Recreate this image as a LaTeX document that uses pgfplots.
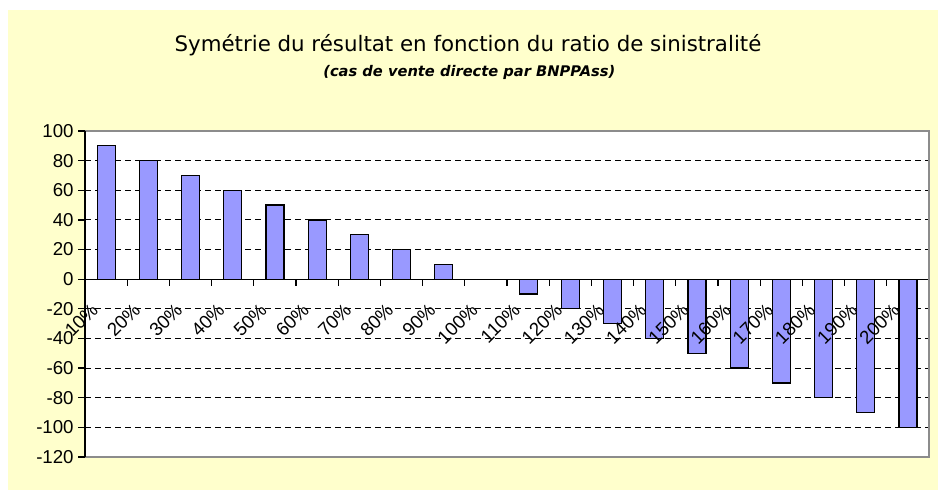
\documentclass[border=0pt]{standalone}
\usepackage{graphicx}
\usepackage{pgfplots}
\pgfplotsset{compat=1.18}
\usepackage{fontspec}
\setmainfont{Liberation Sans}
\newfontfamily\titlefont{DejaVu Sans}
\definecolor{bgyellow}{HTML}{FFFFCC}
\definecolor{barblue}{HTML}{9999FF}
\definecolor{framegray}{HTML}{8C8C8C}
\newcommand{\rl}[1]{\rotatebox{45}{#1}}
\pgfplotsset{
  chartgeom/.style={
    at={(63.75pt,24.75pt)}, anchor=south west,
    scale only axis, width=633pt, height=244.5pt,
    xmin=0.5, xmax=20.5, ymin=-120, ymax=100,
  }
}
\begin{document}
\begin{tikzpicture}
\fill[white] (0,0) rectangle (703.5pt,367.5pt);
\fill[bgyellow] (6pt,0) rectangle (703.5pt,360pt);
\node[font=\titlefont\fontsize{16}{18}\selectfont] at (351pt,333.75pt) {Symétrie du résultat en fonction du ratio de sinistralité};
\node[font=\titlefont\bfseries\itshape\fontsize{11}{13}\selectfont] at (352pt,313pt) {(cas de vente directe par BNPPAss)};
\begin{axis}[
  chartgeom,
  axis background/.style={fill=white},
  axis x line*=middle, axis y line*=left,
  axis line style={black, line width=0.9pt},
  ytick={-120,-100,...,100},
  xtick={1,...,20},
  xticklabels={},
  xtick style={draw=none},
  ytick style={black, line width=0.9pt},
  tick align=outside, major tick length=5pt,
  /pgf/number format/assume math mode=true,
  ymajorgrids,
  major grid style={black, line width=0.8pt, dash pattern=on 4.5pt off 3pt},
  yticklabel style={font=\fontsize{14}{16}\selectfont},
  clip=false,
]
\addplot[ybar, bar width=13.5pt, fill=barblue, draw=black, line width=0.9pt] coordinates {
(1,90) (2,80) (3,70) (4,60) (5,50) (6,40) (7,30) (8,20) (9,10) (10,0)
(11,-10) (12,-20) (13,-30) (14,-40) (15,-50) (16,-60) (17,-70) (18,-80) (19,-90) (20,-100)};
\pgfplotsinvokeforeach{0,...,20}{\draw[black, line width=1pt] (axis cs:#1.5,0) -- ++(0pt,-5pt);}
\draw[framegray, line width=1pt] (rel axis cs:0,1) -- (rel axis cs:1,1) -- (rel axis cs:1,0) -- (rel axis cs:0,0);
\draw[black, line width=0.9pt] (rel axis cs:0,0) -- (rel axis cs:0,1);
\end{axis}
% category labels drawn on top of the bars, as in the reference
\begin{axis}[
  chartgeom,
  axis x line*=middle, hide y axis,
  axis line style={draw=none},
  xtick={1,...,20},
  xticklabels={\rl{10\%},\rl{20\%},\rl{30\%},\rl{40\%},\rl{50\%},\rl{60\%},\rl{70\%},\rl{80\%},\rl{90\%},\rl{100\%},\rl{110\%},\rl{120\%},\rl{130\%},\rl{140\%},\rl{150\%},\rl{160\%},\rl{170\%},\rl{180\%},\rl{190\%},\rl{200\%}},
  xtick style={draw=none},
  tick align=outside, major tick length=5pt,
  xticklabel style={font=\fontsize{14}{16}\selectfont, anchor=north east, inner sep=0pt, xshift=-5pt, yshift=-12pt},
  clip=false,
]
\end{axis}
\end{tikzpicture}
\end{document}
